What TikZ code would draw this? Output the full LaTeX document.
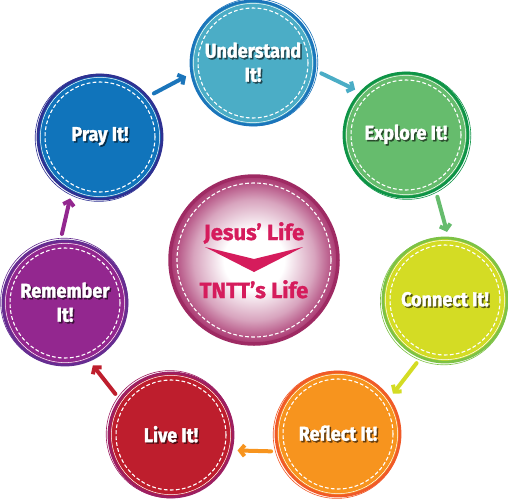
\documentclass[tikz,border=0pt]{standalone}
\usepackage{fontspec}
\newfontfamily\lblfont{Fira Sans}[FakeStretch=0.9, BoldFeatures={FakeBold=1.6}]
\newfontfamily\hubfont{Fira Sans}[BoldFeatures={FakeBold=1.2}]
\usetikzlibrary{arrows.meta}
\definecolor{fund}{HTML}{4BADC6}\definecolor{bund}{HTML}{1B75BB}
\definecolor{fexp}{HTML}{66BC6D}\definecolor{bexp}{HTML}{0E9447}
\definecolor{fcon}{HTML}{D4DC24}\definecolor{bcon}{HTML}{7DC245}
\definecolor{fref}{HTML}{F7941E}\definecolor{bref}{HTML}{F05A28}
\definecolor{fliv}{HTML}{BE1E2D}\definecolor{bliv}{HTML}{9D1F61}
\definecolor{frem}{HTML}{93278F}\definecolor{brem}{HTML}{662D91}
\definecolor{fpra}{HTML}{1074BB}\definecolor{bpra}{HTML}{2E3192}
\definecolor{hubedge}{HTML}{A8346E}
\definecolor{hubring}{HTML}{9E2A63}
\definecolor{hubred}{HTML}{D51C5C}
\colorlet{hubmid}{hubedge!45!white}
\colorlet{shcol}{black}
\pgfdeclareradialshading{hubglow}{\pgfpoint{0bp}{0bp}}{color(0bp)=(white); color(9bp)=(white); color(18bp)=(hubmid); color(25bp)=(hubedge); color(50bp)=(hubedge)}
\newcommand\shd[1]{\leavevmode\rlap{\kern1.5pt\raisebox{-1.5pt}{\textcolor{shcol}{#1}}}#1}
\tikzset{
  stage/.style 2 args={circle, minimum size=124pt, inner sep=0pt, fill=#1, draw=#2,
    line width=2.8pt, text=white, align=center,
    font=\lblfont\bfseries\fontsize{20}{24}\selectfont,
    execute at begin node={\colorlet{shcol}{#1!40!black}},
    path picture={
      \draw[white, line width=1.1pt, dash pattern=on 3.8pt off 2.2pt]
        (path picture bounding box.center) circle[radius=55pt];
      \draw[white, line width=0.5pt]
        (path picture bounding box.center) circle[radius=59.6pt];}},
  ring/.style={draw=#1, line width=0.6pt},
  arr/.style={line width=4pt, draw=#1, line cap=round,
    -{Straight Barb[length=4.5pt,width=11pt]}, shorten <=6pt, shorten >=5pt},
  hubtxt/.style={text=hubred, inner sep=0pt, anchor=base,
    font=\hubfont\bfseries\fontsize{22}{26}\selectfont},
}
\begin{document}
\begin{tikzpicture}[x=1pt,y=-1pt]
\useasboundingbox (0,0) rectangle (508,499);
% hub
\node[circle, minimum size=168pt, draw=hubring, line width=3.5pt, shading=hubglow,
  path picture={\draw[white, line width=1.1pt, dash pattern=on 3.8pt off 2.2pt]
    (path picture bounding box.center) circle[radius=77pt];}] (hub) at (254,260) {};
\node[hubtxt] (jesus) at (254,240) {Jesus’ Life};
\fill[hubred] (205,247) -- (254,259) -- (303,247) -- (254,272) -- cycle;
\node[hubtxt] (tntt) at (254,298) {TNTT’s Life};
% stages
\node[stage={fund}{bund}] (und) at (253,63) {\shd{Understand}\\\shd{It!}};
\node[stage={fexp}{bexp}] (exp) at (406,135) {\shd{Explore It!}};
\node[stage={fcon}{bcon}] (con) at (445,300) {\shd{Connect It!}};
\node[stage={fref}{bref}] (ref) at (338,434) {\shd{Reflect It!}};
\node[stage={fliv}{bliv}] (liv) at (171,435) {\shd{Live It!}};
\node[stage={frem}{brem}] (rem) at (65,303) {\shd{Remember}\\\shd{It!}};
\node[stage={fpra}{bpra}] (pra) at (100,137) {\shd{Pray It!}};
% sketch rings
\draw[ring=bund] ([shift={(1.2,-0.8)}]und.center) circle[radius=63.6pt];
\draw[ring=bexp] ([shift={(1.2,0.8)}]exp.center) circle[radius=63.6pt];
\draw[ring=bcon] ([shift={(-1.0,1.2)}]con.center) circle[radius=63.6pt];
\draw[ring=bref] ([shift={(-1.2,0.8)}]ref.center) circle[radius=63.6pt];
\draw[ring=bliv] ([shift={(-1.2,-0.8)}]liv.center) circle[radius=63.6pt];
\draw[ring=brem] ([shift={(-0.8,-1.2)}]rem.center) circle[radius=63.6pt];
\draw[ring=bpra] ([shift={(-1.2,0.8)}]pra.center) circle[radius=63.6pt];
% arrows
\draw[arr=bund] (pra.40) -- (und.190);
\draw[arr=fund] (und.-7) -- (exp.137);
\draw[arr=fexp] (exp.-62) -- (con.87);
\draw[arr=fcon] (con.-113) -- (ref.35);
\draw[arr=fref] (ref.196) -- (liv.-14);
\draw[arr=fliv] (liv.145) -- (rem.-67);
\draw[arr=frem] (rem.94) -- (pra.-117);
\end{tikzpicture}
\end{document}
